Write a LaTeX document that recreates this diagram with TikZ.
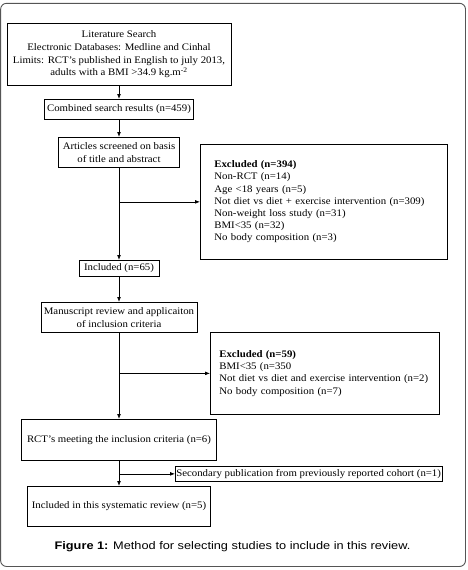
\documentclass[tikz,border=0pt]{standalone}
\usepackage{fontspec}
\setmainfont{Liberation Serif}[FakeStretch=1.08]
\newfontfamily\capfont{Liberation Sans}[FakeStretch=1.16]
\usetikzlibrary{arrows.meta,calc,positioning}
\definecolor{frameGray}{HTML}{555555}
\tikzset{
  >={Latex[length=1.7mm,width=1.3mm]},
  every node/.style={font=\fontsize{10}{12.7}\selectfont},
  stagebox/.style={draw=black, line width=0.7pt, inner sep=1.5pt, align=center},
  exclbox/.style={draw=black, line width=0.7pt, inner ysep=2pt, align=left, font=\fontsize{10}{12.2}\selectfont},
  flow/.style={->, line width=0.7pt, draw=black},
  framepanel/.style={draw=frameGray, rounded corners=6pt, line width=0.9pt},
  captext/.style={font=\capfont\fontsize{11}{13}\selectfont},
}

\begin{document}
\begin{tikzpicture}[x=1pt,y=1pt]
  \useasboundingbox (0,0) rectangle (467,-570);
  \draw[framepanel] (0.6,-3.3) rectangle (465.5,-566.5);

  % main stages
  \node[stagebox, minimum width=224, minimum height=62, anchor=north] (search) at (119,-23)
    {Literature Search\\
     Electronic Databases: Medline and Cinhal\\
     Limits: RCT's published in English to july 2013,\\
     adults with a BMI >34.9 kg.m\textsuperscript{-2}};
  \node[stagebox, minimum width=149, minimum height=20, anchor=north] (combined) at (119,-99)
    {Combined search results (n=459)};
  \node[stagebox, minimum width=121, minimum height=30, anchor=north] (screened) at (119,-137)
    {Articles screened on basis\\ of title and abstract};
  \node[stagebox, minimum width=80, minimum height=16, anchor=north] (included) at (119,-260)
    {Included (n=65)};
  \node[stagebox, minimum width=156, minimum height=30, anchor=north] (manuscript) at (119,-302)
    {Manuscript review and applicaiton\\ of inclusion criteria};
  \node[stagebox, minimum width=195, minimum height=41, anchor=north] (rcts) at (119,-419)
    {RCT's meeting the inclusion criteria (n=6)};
  \node[stagebox, minimum width=183, minimum height=40, anchor=north] (final) at (119,-486)
    {Included in this systematic review (n=5)};

  % exclusion boxes
  \node[exclbox, inner xsep=14pt, text width=219, minimum height=115, anchor=north west] (excl1) at (200,-144)
    {\textbf{Excluded (n=394)}\\
     Non-RCT (n=14)\\
     Age <18 years (n=5)\\
     Not diet vs diet + exercise intervention (n=309)\\
     Non-weight loss study (n=31)\\
     BMI<35 (n=32)\\
     No body composition (n=3)};
  \node[exclbox, inner xsep=9pt, text width=211, minimum height=82, anchor=north west] (excl2) at (210,-332)
    {\textbf{Excluded (n=59)}\\
     BMI<35 (n=350\\
     Not diet vs diet and exercise intervention (n=2)\\
     No body composition (n=7)};
  \node[stagebox, minimum width=266, minimum height=15, inner sep=1pt, anchor=north west] (secondary) at (175,-466)
    {Secondary publication from previously reported cohort (n=1)};

  \draw[flow] (search.south) -- (combined.north);
  \draw[flow] (combined.south) -- (screened.north);
  \draw[flow] (screened.south) -- (included.north);
  \draw[flow] (included.south) -- (manuscript.north);
  \draw[flow] (manuscript.south) -- (rcts.north);
  \draw[flow] (rcts.south) -- (final.north);
  \draw[flow] (excl1.west -| screened.south) -- (excl1.west);
  \draw[flow] (excl2.west -| manuscript.south) -- (excl2.west);
  \draw[flow] (secondary.west -| rcts.south) -- (secondary.west);

  \node[captext] (caption) at (232.5,-547) {\textbf{Figure 1:} Method for selecting studies to include in this review.};
\end{tikzpicture}
\end{document}
